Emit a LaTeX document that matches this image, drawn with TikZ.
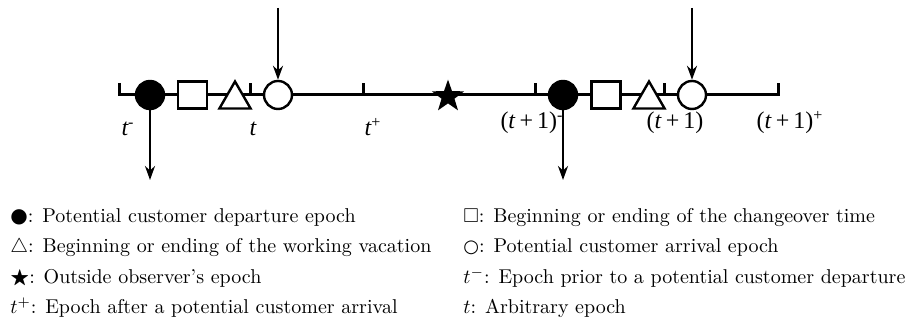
\documentclass[tikz,border=0pt]{standalone}
\usepackage{amsmath,amssymb}
\usepackage{fontspec}
\newfontfamily\timesf{Liberation Serif}
\newfontfamily\symf{DejaVu Sans}
\usetikzlibrary{arrows.meta,shapes.geometric}
\tikzset{
  dep/.style={circle,draw,fill=black,line width=1.2pt,minimum size=14pt,inner sep=0pt},
  arr/.style={circle,draw,fill=white,line width=1.2pt,minimum size=14pt,inner sep=0pt},
  chg/.style={rectangle,draw,fill=white,line width=1.2pt,minimum width=14.5pt,minimum height=13.5pt,inner sep=0pt},
  wv/.style={regular polygon,regular polygon sides=3,draw,fill=white,line width=1.2pt,minimum size=18pt,
             inner sep=0pt,yshift=-2.25pt},
  obs/.style={star,star points=5,star point ratio=2.5,fill=black,minimum size=17pt,inner sep=0pt,yshift=-0.8pt},
  axis/.style={line width=1.5pt},
  tick/.style={line width=1.5pt},
  edge/.style={-{Stealth[length=7pt,width=5pt]},line width=1.4pt},
  tlabel/.style={font=\timesf\fontsize{12}{14}\selectfont,anchor=base,inner sep=0pt},
  legend/.style={anchor=base west,inner sep=0pt},
}
\begin{document}
\begin{tikzpicture}[x=0.5pt,y=-0.5pt]
  \useasboundingbox (0,0) rectangle (910,330);
  % ---- time axis ----
  \coordinate (lend) at (119,83);
  \coordinate (rend) at (778,83);
  \draw[axis] (lend) -- (119,95) -- (778,95) -- (rend);
  \coordinate (tk1) at (250,95);
  \coordinate (tk2) at (363,95);
  \coordinate (tk3) at (535,95);
  \coordinate (tk4) at (664,95);
  \foreach \t in {tk1,tk2,tk3,tk4}
    \draw[tick] (\t) -- ++(0,-12);
  % ---- epochs in [t-, t+] ----
  \node[dep] (dep1) at (150,95) {};
  \node[chg] (chg1) at (192.5,95) {};
  \node[wv]  (wv1)  at (235,95) {};
  \node[arr] (arr1) at (278,95) {};
  \node[obs] (star) at (448,95) {};
  % ---- epochs in [(t+1)-, (t+1)+] ----
  \node[dep] (dep2) at (563,95) {};
  \node[chg] (chg2) at (606,95) {};
  \node[wv]  (wv2)  at (649,95) {};
  \node[arr] (arr2) at (692,95) {};
  % ---- arrivals and departures ----
  \coordinate (in1) at (278,8);
  \coordinate (in2) at (692,8);
  \coordinate (out1) at (150,180);
  \coordinate (out2) at (563,180);
  \draw[edge] (in1) -- (arr1);
  \draw[edge] (in2) -- (arr2);
  \draw[edge] (dep1) -- (out1);
  \draw[edge] (dep2) -- (out2);
  % ---- axis labels ----
  \node[tlabel] (lt1) at (128,136) {\itshape t\textsuperscript{\upshape -}};
  \node[tlabel] (lt2) at (253,136) {\itshape t};
  \node[tlabel] (lt3) at (373,136) {\itshape t\textsuperscript{\upshape +}};
  \node[tlabel] (lt4) at (532,129) {(\textit{t}\,+\,1)\textsuperscript{-}};
  \node[tlabel] (lt5) at (675,129) {(\textit{t}\,+\,1)};
  \node[tlabel] (lt6) at (790,129) {(\textit{t}\,+\,1)\textsuperscript{+}};
  % ---- legend ----
  \node[legend] (leg1) at (10,223) {{\symf ●}: Potential customer departure epoch};
  \node[legend] (leg2) at (10,253) {$\triangle$: Beginning or ending of the working vacation};
  \node[legend] (leg3) at (10,284) {$\bigstar$: Outside observer's epoch};
  \node[legend] (leg4) at (10,314) {$t^{+}$: Epoch after a potential customer arrival};
  \node[legend] (leg5) at (463,223) {$\square$: Beginning or ending of the changeover time};
  \node[legend] (leg6) at (463,253) {{\symf\small ○}: Potential customer arrival epoch};
  \node[legend] (leg7) at (463,284) {$t^{-}$: Epoch prior to a potential customer departure};
  \node[legend] (leg8) at (463,314) {$t$: Arbitrary epoch};
\end{tikzpicture}
\end{document}
